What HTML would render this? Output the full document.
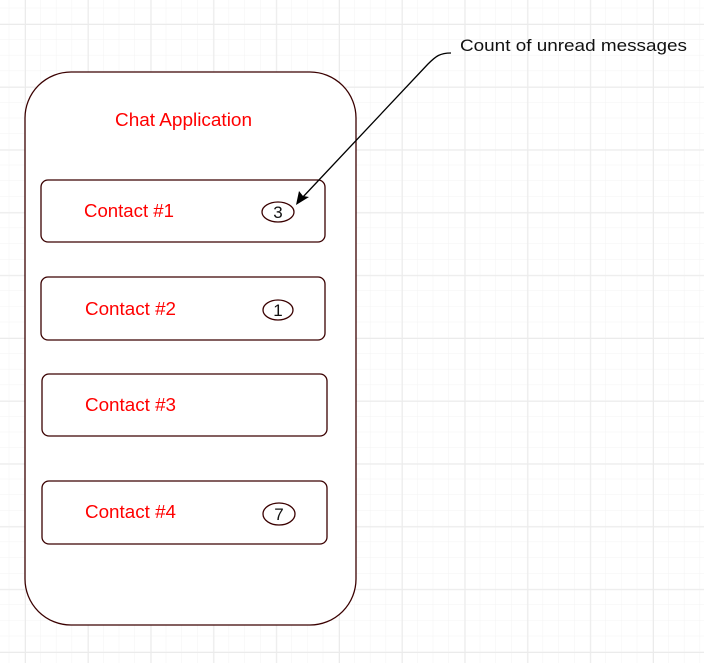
<!DOCTYPE html>
<html><head><style>
html,body{margin:0;padding:0;background:#fff}
body{width:704px;height:663px;overflow:hidden}
</style></head><body>
<svg width="704" height="663" xmlns="http://www.w3.org/2000/svg" font-family="Liberation Sans, sans-serif">
<defs>
<pattern id="minor" x="9.3" y="8.3" width="15.7" height="15.7" patternUnits="userSpaceOnUse">
<path d="M15.7 0V15.7M0 15.7H15.7" stroke="#f3f3f3" stroke-width="1" fill="none"/>
</pattern>
<pattern id="major" x="25" y="24" width="62.8" height="62.8" patternUnits="userSpaceOnUse">
<path d="M0.5 0V62.8M0 0.5H62.8" stroke="#ebebeb" stroke-width="1" fill="none"/>
</pattern>
</defs>
<rect width="704" height="663" fill="url(#minor)"/>
<rect width="704" height="663" fill="url(#major)"/>
<g stroke="#3a0000" stroke-width="1.3" fill="#fff">
<rect x="25" y="72" width="331" height="553" rx="46"/>
<rect x="41" y="180" width="284" height="62" rx="7"/>
<rect x="41" y="277" width="284" height="63" rx="7"/>
<rect x="42" y="374" width="285" height="62" rx="7"/>
<rect x="42" y="481" width="285" height="63" rx="7"/>
<ellipse cx="278" cy="212" rx="16" ry="10"/>
<ellipse cx="278" cy="310" rx="15" ry="10"/>
<ellipse cx="279" cy="514" rx="16" ry="11"/>
</g>
<g fill="#ff0000" font-size="18">
<text x="115" y="126" textLength="137" lengthAdjust="spacingAndGlyphs">Chat Application</text>
<text x="84" y="217" textLength="90" lengthAdjust="spacingAndGlyphs">Contact #1</text>
<text x="85" y="315" textLength="91" lengthAdjust="spacingAndGlyphs">Contact #2</text>
<text x="85" y="411" textLength="91" lengthAdjust="spacingAndGlyphs">Contact #3</text>
<text x="85" y="518" textLength="91" lengthAdjust="spacingAndGlyphs">Contact #4</text>
</g>
<g fill="#111" font-size="17" text-anchor="middle">
<text x="278" y="218">3</text>
<text x="278" y="316">1</text>
<text x="279" y="520">7</text>
</g>
<path d="M451 53 C440 53 436 56 428 64 L302 198" stroke="#000" stroke-width="1.3" fill="none"/>
<path d="M296 205 L299 191 L303 196 L309 197 Z" fill="#000"/>
<text x="460" y="51" font-size="17" fill="#111" textLength="227" lengthAdjust="spacingAndGlyphs">Count of unread messages</text>
</svg>
</body></html>
